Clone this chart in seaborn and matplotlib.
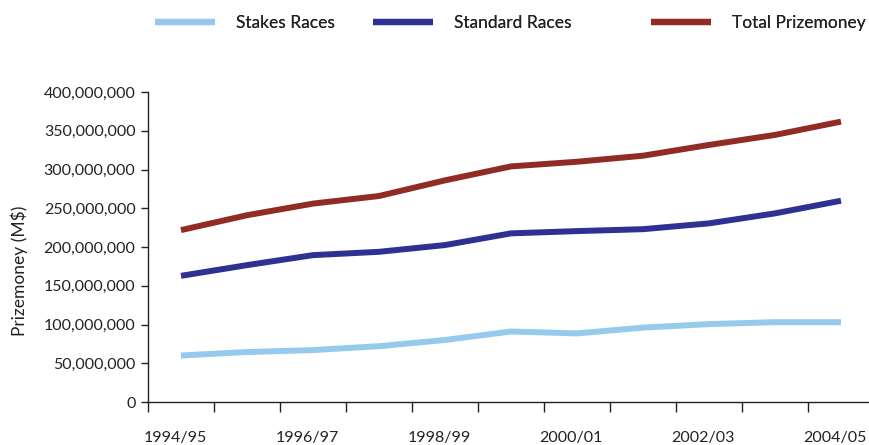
import numpy as np
import pandas as pd
import seaborn as sns
import matplotlib.pyplot as plt
import matplotlib.transforms as mtransforms
from matplotlib.ticker import FixedLocator, StrMethodFormatter

# Data
seasons = ["1994/95", "1995/96", "1996/97", "1997/98", "1998/99", "1999/00",
           "2000/01", "2001/02", "2002/03", "2003/04", "2004/05"]
stakes = [60.0, 64.5, 67.0, 72.0, 80.0, 91.0, 88.5, 96.0, 100.5, 103.0, 103.0]
standard = [162.8, 176.6, 189.5, 193.8, 202.5, 217.6, 220.5, 223.0, 230.5, 243.4, 259.7]
total = [221.8, 241.0, 256.0, 265.8, 286.0, 304.0, 310.0, 317.8, 331.7, 344.6, 361.8]

series_names = ["Stakes Races", "Standard Races", "Total Prizemoney"]
colors = ["#95CAEE", "#2E3192", "#912C25"]

df = pd.DataFrame({
    "season": seasons * 3,
    "value": np.array(stakes + standard + total) * 1e6,
    "series": np.repeat(series_names, len(seasons)),
})

sns.set_style("white")
plt.rcParams["font.family"] = ["Lato", "DejaVu Sans"]

fig = plt.figure(figsize=(8.69, 4.45), dpi=100)
ax = fig.add_axes([148 / 869, 1 - 402 / 445, 726 / 869, 310 / 445])

sns.lineplot(data=df, x="season", y="value", hue="series", palette=colors,
             linewidth=4.3, ax=ax, legend=True, sort=False, solid_capstyle="butt")

ax.set_xlim(-0.5, len(seasons) - 0.5)
ax.set_ylim(0, 400e6)
ax.yaxis.set_major_locator(FixedLocator(np.arange(0, 400e6 + 1, 50e6)))
ax.yaxis.set_major_formatter(StrMethodFormatter("{x:,.0f}"))

# tick marks between categories, labels every second season
bounds = np.arange(-0.5, len(seasons), 1.0)
ax.xaxis.set_major_locator(FixedLocator(bounds))
ax.set_xticklabels([""] * len(bounds))
ax.xaxis.set_minor_locator(FixedLocator(np.arange(0, len(seasons), 2)))
ax.set_xticklabels(seasons[::2], minor=True)
ax.tick_params(axis="x", which="major", direction="out", length=7, width=1, color="#222222", bottom=True)
ax.tick_params(axis="x", which="minor", length=0, pad=21, labelsize=11.5, labelcolor="#222222")
ax.tick_params(axis="y", direction="out", length=5, width=1, color="#222222", left=True,
               labelsize=11.5, labelcolor="#222222", pad=4)

# nudge season labels a bit to the left, like the original
shift = mtransforms.ScaledTranslation(-6 / 100, 0, fig.dpi_scale_trans)
for lbl in ax.xaxis.get_minorticklabels():
    lbl.set_transform(lbl.get_transform() + shift)

for s in ["top", "right"]:
    ax.spines[s].set_visible(False)
for s in ["left", "bottom"]:
    ax.spines[s].set_color("#222222")
    ax.spines[s].set_linewidth(1)

ax.set_xlabel("")
ax.set_ylabel("Prizemoney (M$)", fontsize=12.5, color="#222222")
ax.yaxis.set_label_coords((28 - 148) / 726, (402 - 271) / 310)

# legend: one entry per box so the spacing follows the original
ax.get_legend().remove()
handles, labels = ax.get_legend_handles_labels()
legend_x = [155, 373, 651]
for h, lab, lx in zip(handles, labels, legend_x):
    h.set_linewidth(4.5)
    h.set_solid_capstyle("butt")
    leg = fig.legend([h], [lab], loc="center left", bbox_to_anchor=(lx / 869, 1 - 23 / 445),
                     frameon=False, fontsize=12.5, handlelength=3.45, handletextpad=1.2,
                     borderpad=0, borderaxespad=0, labelcolor="#222222")
    fig.add_artist(leg)

fig.savefig("out.png", dpi=100)
